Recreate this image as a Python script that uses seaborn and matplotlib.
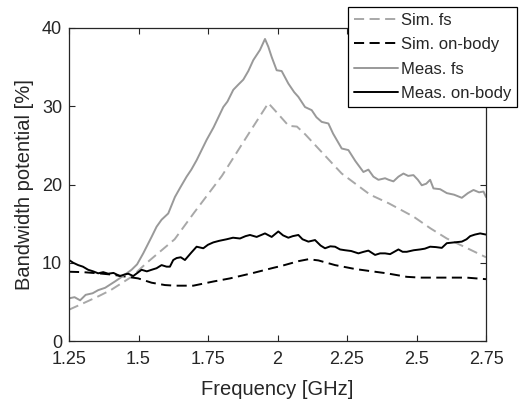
import matplotlib
matplotlib.use("Agg")
import matplotlib.pyplot as plt
import seaborn as sns
import pandas as pd

# ---------------- data ----------------
sim_fs_x = [1.25, 1.30, 1.355, 1.40, 1.475, 1.53, 1.63, 1.70, 1.80, 1.90, 1.967, 1.99,
            2.04, 2.07, 2.10, 2.147, 2.231, 2.333, 2.40, 2.489, 2.55, 2.609, 2.68, 2.75]
sim_fs_y = [4.0, 4.8, 5.7, 6.5, 8.2, 10.0, 13.0, 16.4, 21.1, 26.7, 30.4, 29.5,
            27.5, 27.4, 26.4, 24.6, 21.4, 18.7, 17.6, 15.9, 14.4, 13.1, 11.9, 10.7]

sim_body_x = [1.25, 1.30, 1.355, 1.40, 1.44, 1.499, 1.547, 1.595, 1.631, 1.697, 1.769,
              1.829, 1.913, 1.985, 2.015, 2.075, 2.111, 2.147, 2.207, 2.279, 2.351,
              2.393, 2.465, 2.513, 2.609, 2.68, 2.75]
sim_body_y = [8.85, 8.8, 8.65, 8.5, 8.3, 8.0, 7.45, 7.15, 7.07, 7.07, 7.6,
              8.0, 8.7, 9.35, 9.6, 10.2, 10.45, 10.3, 9.7, 9.2, 8.85,
              8.65, 8.2, 8.1, 8.1, 8.1, 7.9]

meas_fs_x = [1.25, 1.27, 1.29, 1.31, 1.335, 1.355, 1.38, 1.415, 1.44, 1.475, 1.495, 1.517,
             1.547, 1.565, 1.583, 1.607, 1.631, 1.65, 1.673, 1.69, 1.709, 1.727, 1.745,
             1.77, 1.805, 1.82, 1.841, 1.86, 1.877, 1.895, 1.913, 1.937, 1.955, 1.967,
             1.979, 1.997, 2.015, 2.039, 2.06, 2.075, 2.099, 2.123, 2.14, 2.159, 2.183,
             2.2, 2.231, 2.255, 2.28, 2.309, 2.327, 2.345, 2.363, 2.387, 2.40, 2.417,
             2.435, 2.453, 2.47, 2.489, 2.505, 2.519, 2.535, 2.549, 2.561, 2.585, 2.609,
             2.635, 2.663, 2.685, 2.705, 2.725, 2.741, 2.75]
meas_fs_y = [5.45, 5.6, 5.2, 5.9, 6.1, 6.5, 6.8, 7.6, 8.2, 9.1, 9.8, 11.2,
             13.3, 14.6, 15.5, 16.3, 18.4, 19.6, 21.0, 21.9, 23.1, 24.4, 25.7,
             27.3, 29.9, 30.6, 32.1, 32.8, 33.4, 34.5, 35.9, 37.2, 38.6, 37.6,
             36.3, 34.6, 34.5, 32.9, 31.8, 31.2, 29.9, 29.5, 28.6, 28.0, 27.8,
             26.5, 24.6, 24.4, 23.0, 21.6, 21.9, 21.0, 20.6, 20.8, 20.6, 20.4,
             21.0, 21.4, 21.1, 21.2, 20.6, 19.9, 20.1, 20.6, 19.5, 19.4, 18.9,
             18.7, 18.3, 18.9, 19.3, 19.0, 19.1, 18.4]

meas_body_x = [1.25, 1.265, 1.283, 1.30, 1.319, 1.337, 1.355, 1.373, 1.391, 1.41, 1.433,
               1.45, 1.463, 1.481, 1.496, 1.511, 1.53, 1.547, 1.565, 1.583, 1.601, 1.613,
               1.625, 1.637, 1.652, 1.667, 1.69, 1.709, 1.733, 1.75, 1.769, 1.79, 1.817,
               1.84, 1.865, 1.885, 1.901, 1.925, 1.955, 1.979, 2.003, 2.02, 2.039, 2.055,
               2.075, 2.09, 2.111, 2.135, 2.155, 2.171, 2.19, 2.207, 2.225, 2.243, 2.265,
               2.291, 2.31, 2.327, 2.351, 2.369, 2.387, 2.405, 2.42, 2.435, 2.45, 2.465,
               2.49, 2.513, 2.53, 2.549, 2.57, 2.591, 2.609, 2.635, 2.663, 2.68, 2.693,
               2.71, 2.729, 2.75]
meas_body_y = [10.35, 10.0, 9.7, 9.5, 9.1, 8.9, 8.65, 8.8, 8.6, 8.7, 8.3,
               8.5, 8.6, 8.3, 8.7, 9.1, 8.9, 9.1, 9.3, 9.7, 9.5, 9.5,
               10.35, 10.6, 10.7, 10.35, 11.3, 12.05, 11.85, 12.3, 12.6, 12.8, 13.0,
               13.2, 13.1, 13.4, 13.55, 13.3, 13.75, 13.3, 14.0, 13.5, 13.2, 13.4,
               13.55, 13.0, 12.7, 12.9, 12.2, 11.85, 12.1, 12.05, 11.7, 11.6, 11.5,
               11.2, 11.4, 11.55, 11.0, 11.2, 11.2, 11.1, 11.4, 11.7, 11.4, 11.4,
               11.6, 11.7, 11.8, 12.05, 12.0, 11.9, 12.5, 12.6, 12.7, 13.0, 13.4,
               13.6, 13.75, 13.6]

series_labels = ["Sim. fs", "Sim. on-body", "Meas. fs", "Meas. on-body"]
x_ticks = [1.25, 1.5, 1.75, 2.0, 2.25, 2.5, 2.75]
x_tick_labels = ["1.25", "1.5", "1.75", "2", "2.25", "2.5", "2.75"]
y_ticks = [0, 10, 20, 30, 40]

# ---------------- style ----------------
sns.set_style("ticks")
plt.rcParams["font.family"] = ["Liberation Sans", "DejaVu Sans"]
axis_color = "#262626"

fig = plt.figure(figsize=(5.19, 4.0), dpi=100)
ax = fig.add_axes([69 / 519, 59 / 400, 417 / 519, 313 / 400])

dash = (0, (5.2, 2.8))
styles = [
    dict(color="#a8a8a8", linestyle=dash),
    dict(color="#000000", linestyle=dash),
    dict(color="#999999", linestyle="-"),
    dict(color="#000000", linestyle="-"),
]
datasets = [(sim_fs_x, sim_fs_y), (sim_body_x, sim_body_y),
            (meas_fs_x, meas_fs_y), (meas_body_x, meas_body_y)]

for (xs, ys), lab, st in zip(datasets, series_labels, styles):
    df = pd.DataFrame({"f": xs, "bw": ys})
    sns.lineplot(data=df, x="f", y="bw", ax=ax, label=lab, color=st["color"],
                 linestyle=st["linestyle"], linewidth=1.4)

ax.set_xlim(1.25, 2.75)
ax.set_ylim(0, 40)
ax.set_xticks(x_ticks)
ax.set_xticklabels(x_tick_labels)
ax.set_yticks(y_ticks)
ax.set_xlabel("Frequency [GHz]", fontsize=14.5, color=axis_color, labelpad=9)
ax.set_ylabel("Bandwidth potential [%]", fontsize=14.5, color=axis_color, labelpad=6)

for side in ["top", "right", "bottom", "left"]:
    ax.spines[side].set_visible(True)
    ax.spines[side].set_color(axis_color)
    ax.spines[side].set_linewidth(0.9)
ax.tick_params(direction="in", length=4, width=0.8, colors=axis_color,
               labelsize=13, top=True, right=True)
ax.tick_params(axis="x", pad=7)
ax.tick_params(axis="y", pad=5)

leg = ax.legend(loc="upper right", bbox_to_anchor=(517 / 519, 393 / 400),
                bbox_transform=fig.transFigure, fontsize=12, frameon=True,
                fancybox=False, edgecolor="#000000", framealpha=1,
                handlelength=2.65, handletextpad=0.15, labelspacing=0.56,
                borderpad=0.36, borderaxespad=0)
leg.get_frame().set_linewidth(0.9)

fig.savefig("out.png", dpi=100)
